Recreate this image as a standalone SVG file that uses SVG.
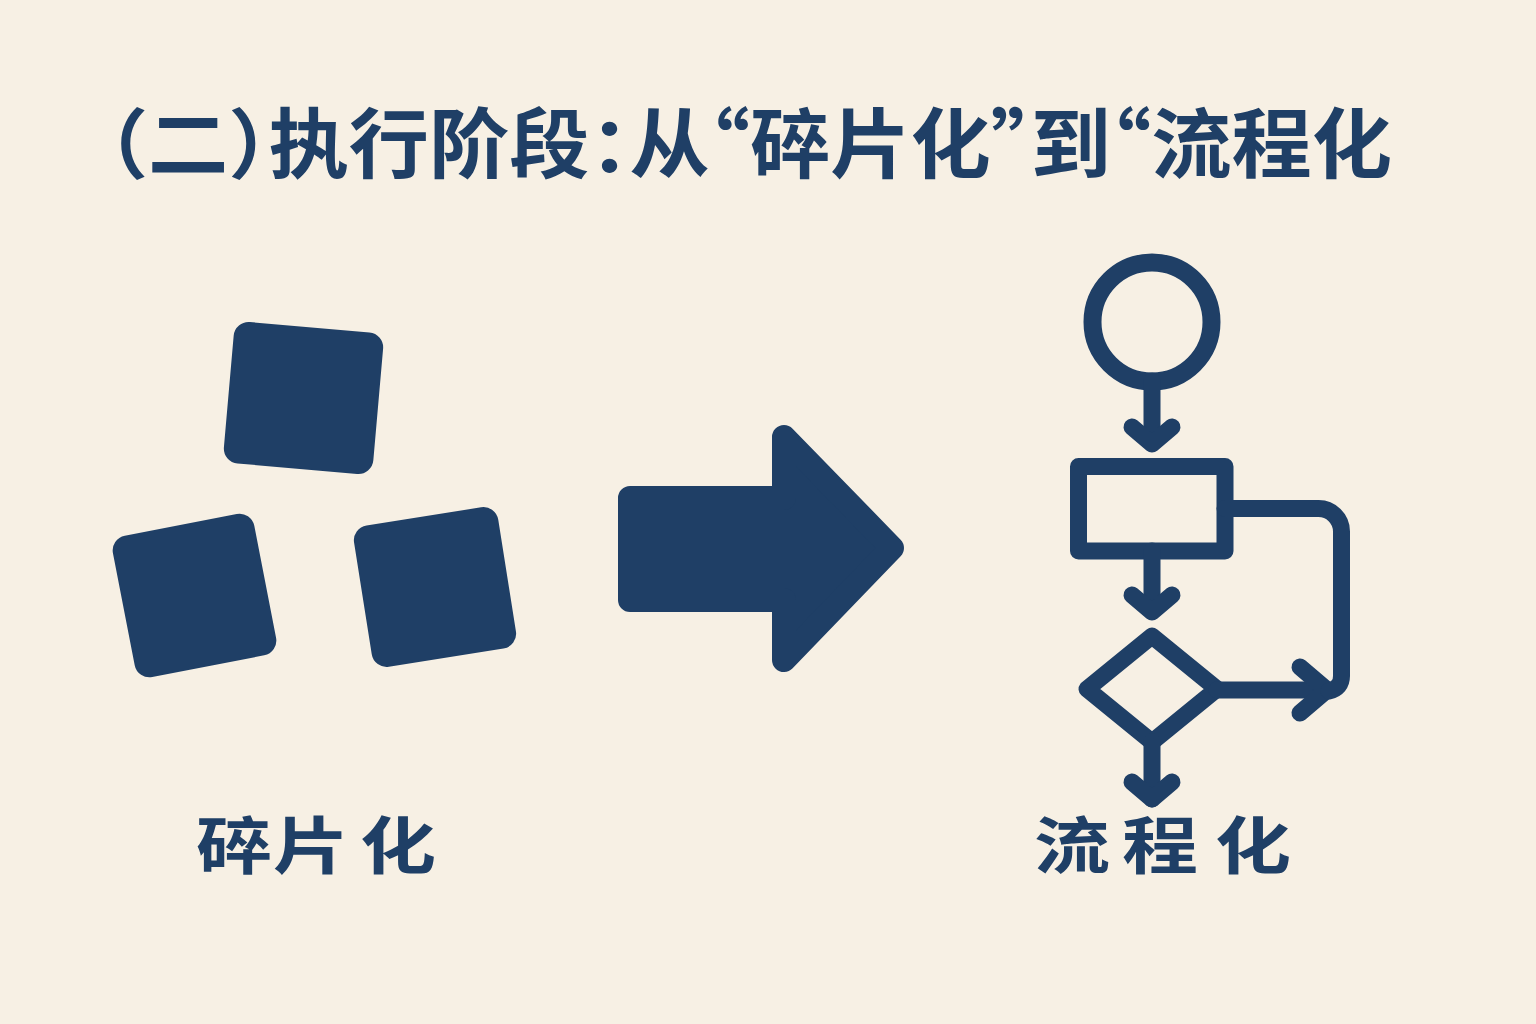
<svg xmlns="http://www.w3.org/2000/svg" width="1536" height="1024" viewBox="0 0 1536 1024">
  <defs>
    <style>
      .bg { fill: #f7f0e4; }
      .solid { fill: #1f3f66; }
      .line { fill: none; stroke: #1f3f66; stroke-width: 17; stroke-linecap: round; stroke-linejoin: round; }
      .title { font-family: "Noto Sans CJK SC", "Noto Sans", sans-serif; font-weight: 700; font-size: 76px; fill: #1f3f66; font-feature-settings: "halt"; }
      .label { font-family: "Noto Sans CJK SC", "Noto Sans", sans-serif; font-weight: 700; font-size: 76px; fill: #1f3f66; text-anchor: middle; }
    </style>
  </defs>
  <rect class="bg" x="0" y="0" width="1536" height="1024"/>

  <g id="title">
    <text class="title" x="108" y="172" textLength="1284" lengthAdjust="spacingAndGlyphs">（二）执行阶段：从“碎片化”到“流程化</text>
  </g>

  <g id="fragments">
    <rect class="solid" x="-75" y="-71" width="150" height="142" rx="15" transform="translate(303.5 398) rotate(5)"/>
    <rect class="solid" x="-72" y="-72" width="144" height="144" rx="15" transform="translate(194.5 595.5) rotate(-11)"/>
    <rect class="solid" x="-73" y="-71.5" width="146" height="143" rx="15" transform="translate(435 587) rotate(-9)"/>
  </g>
  <g id="label-fragments">
    <text class="label" x="234 311 398" y="0" transform="translate(0 869) scale(1 0.82)">碎片化</text>
  </g>

  <g id="big-arrow">
    <path class="solid" d="M630 498 L784 498 L784 437 L892 548 L784 660 L784 600 L630 600 Z" stroke="#1f3f66" stroke-width="24" stroke-linejoin="round"/>
  </g>

  <g id="flow-start">
    <circle class="line" cx="1152" cy="322" r="59.5" style="stroke-width:18"/>
  </g>
  <g id="flow-process">
    <rect class="line" x="1078.5" y="466.5" width="146.5" height="84.5"/>
  </g>
  <g id="flow-decision">
    <path class="line" d="M1152 636 L1217 689 L1152 742 L1087 689 Z"/>
  </g>

  <g id="connectors">
    <path class="line" d="M1152 381 V443"/>
    <path class="line" d="M1132 427 L1152 444 L1172 427"/>
    <path class="line" d="M1152 551 V611"/>
    <path class="line" d="M1132 595 L1152 612 L1172 595"/>
    <path class="line" d="M1152 742 V799"/>
    <path class="line" d="M1132 782 L1152 799 L1172 782"/>
    <path class="line" d="M1217 690 H1326"/>
    <path class="line" d="M1300 667 L1327 690 L1300 713"/>
    <path class="line" d="M1225 508.5 H1318 A23 23 0 0 1 1341.5 531.5 V676 Q1341.5 688 1329 691"/>
  </g>

  <g id="label-flow">
    <text class="label" x="1072 1160 1253" y="0" transform="translate(0 869) scale(1 0.82)">流程化</text>
  </g>
</svg>
